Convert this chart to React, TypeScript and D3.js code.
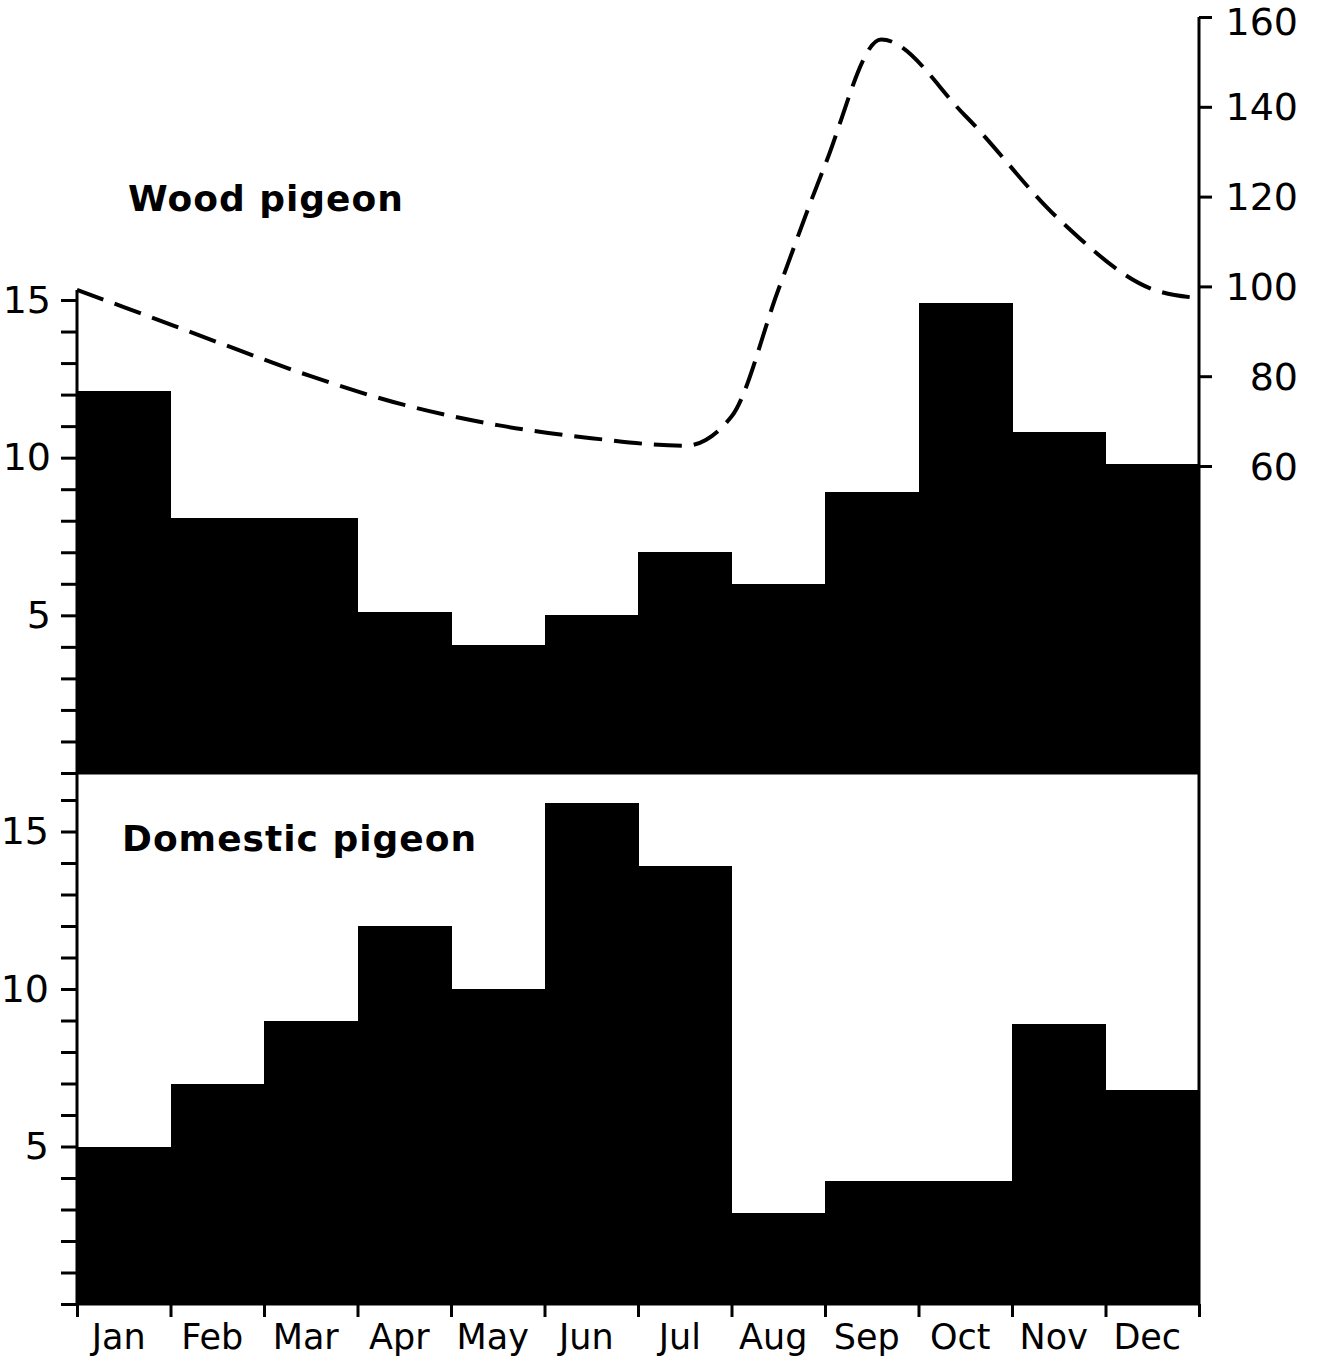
import React, { useEffect, useRef } from 'react';
import * as d3 from 'd3';

const months = ['Jan', 'Feb', 'Mar', 'Apr', 'May', 'Jun', 'Jul', 'Aug', 'Sep', 'Oct', 'Nov', 'Dec'];
const woodPigeon = [12.1, 8.1, 8.1, 5.1, 4.05, 5, 7, 6, 8.9, 14.9, 10.8, 9.8];
const domesticPigeon = [5, 7, 9, 12, 10, 15.9, 13.9, 2.9, 3.9, 3.9, 8.9, 6.8];

// dashed curve: position in months from the start of Jan, value on right axis
const curvePos = [0, 0.5, 1.5, 2.5, 3.5, 4.5, 5.5, 6.5, 7.0, 7.5, 8.0, 8.6, 9.5, 10.5, 11.5, 12];
const curveVal = [99.2, 95.4, 87.6, 80, 73.6, 69.1, 66.2, 64.5, 71, 99.2, 127, 155, 138, 115, 99.4, 97.4];

const leftTicksTop = d3.range(0, 16);
const leftTicksBottom = d3.range(0, 17);
const leftLabels = [5, 10, 15];
const rightTicks = [60, 80, 100, 120, 140, 160];

export default function App() {
  const ref = useRef<SVGSVGElement>(null);

  useEffect(() => {
    const W = 1326, H = 1361;
    const svg = d3.select(ref.current);
    svg.selectAll('*').remove();
    svg.attr('width', W).attr('height', H);

    const x0 = 77, x1 = 1199;
    const x = d3.scaleBand<string>().domain(months).range([x0, x1]).padding(0);
    const xl = d3.scaleLinear().domain([0, 12]).range([x0, x1]);

    const yTop = d3.scaleLinear().domain([0, 15]).range([773, 300]);
    const yBot = d3.scaleLinear().domain([0, 16]).range([1304, 800]);
    const yRight = d3.scaleLinear().domain([60, 160]).range([466, 17]);

    const font = '"DejaVu Sans", sans-serif';

    // bars
    svg.append('g').selectAll('rect')
      .data(woodPigeon)
      .enter().append('rect')
      .attr('x', (d, i) => x(months[i])!)
      .attr('y', d => yTop(d))
      .attr('width', x.bandwidth() + 0.5)
      .attr('height', d => yTop(0) - yTop(d))
      .attr('fill', '#000')
      .attr('shape-rendering', 'crispEdges');

    svg.append('g').selectAll('rect')
      .data(domesticPigeon)
      .enter().append('rect')
      .attr('x', (d, i) => x(months[i])!)
      .attr('y', d => yBot(d))
      .attr('width', x.bandwidth() + 0.5)
      .attr('height', d => yBot(0) - yBot(d))
      .attr('fill', '#000')
      .attr('shape-rendering', 'crispEdges');

    // frame lines
    const frame = svg.append('g').attr('stroke', '#000').attr('stroke-width', 3).attr('fill', 'none');
    frame.append('line').attr('x1', x0).attr('x2', x0).attr('y1', 290).attr('y2', yBot(0));
    frame.append('line').attr('x1', x1).attr('x2', x1).attr('y1', yRight(160)).attr('y2', yBot(0));
    frame.append('line').attr('x1', x0).attr('x2', x1).attr('y1', yTop(0)).attr('y2', yTop(0));
    frame.append('line').attr('x1', x0).attr('x2', x1).attr('y1', yBot(0)).attr('y2', yBot(0));

    const styleAxis = (g: d3.Selection<SVGGElement, unknown, null, undefined>) => {
      g.select('.domain').remove();
      g.selectAll('.tick line').attr('stroke', '#000').attr('stroke-width', 3);
      g.selectAll('.tick text')
        .attr('fill', '#000')
        .style('font-family', font)
        .style('font-size', '38px');
    };

    // left axes
    svg.append('g')
      .attr('transform', `translate(${x0},0)`)
      .call(d3.axisLeft(yTop).tickValues(leftTicksTop).tickSize(16).tickPadding(10)
        .tickFormat(d => (leftLabels.includes(+d) ? String(d) : '')))
      .call(styleAxis);

    svg.append('g')
      .attr('transform', `translate(${x0},0)`)
      .call(d3.axisLeft(yBot).tickValues(leftTicksBottom).tickSize(16).tickPadding(12)
        .tickFormat(d => (leftLabels.includes(+d) ? String(d) : '')))
      .call(styleAxis);

    // right axis
    const ra = svg.append('g')
      .attr('transform', `translate(${x1},0)`)
      .call(d3.axisRight(yRight).tickValues(rightTicks).tickSize(13))
      .call(styleAxis);
    ra.selectAll('.tick text')
      .attr('x', 99)
      .attr('y', d => (+d === 160 ? 5 : 1))
      .attr('text-anchor', 'end');

    // bottom month ticks and labels
    svg.append('g')
      .attr('transform', `translate(0,${yBot(0)})`)
      .call(d3.axisBottom(xl).tickValues(d3.range(0, 13)).tickSize(13).tickFormat(() => ''))
      .call(styleAxis);

    svg.append('g').selectAll('text')
      .data(months)
      .enter().append('text')
      .attr('x', d => x(d)! + x.bandwidth() / 2 - 5)
      .attr('y', 1349)
      .attr('text-anchor', 'middle')
      .style('font-family', font)
      .style('font-size', '35px')
      .text(d => d);

    // dashed curve
    const line = d3.line<number>()
      .x((d, i) => xl(curvePos[i]))
      .y(d => yRight(d))
      .curve(d3.curveMonotoneX);

    svg.append('path')
      .datum(curveVal)
      .attr('d', line)
      .attr('fill', 'none')
      .attr('stroke', '#000')
      .attr('stroke-width', 4)
      .attr('stroke-dasharray', '28 12');

    // titles
    svg.append('text')
      .attr('x', 128).attr('y', 211)
      .style('font-family', font).style('font-size', '36px').style('font-weight', 'bold')
      .style('letter-spacing', '1px')
      .text('Wood pigeon');

    svg.append('text')
      .attr('x', 122).attr('y', 851)
      .style('font-family', font).style('font-size', '36px').style('font-weight', 'bold')
      .style('letter-spacing', '1px')
      .text('Domestic pigeon');
  }, []);

  return <svg ref={ref} style={{ position: 'absolute', left: 0, top: 0, background: '#fff' }} />;
}
